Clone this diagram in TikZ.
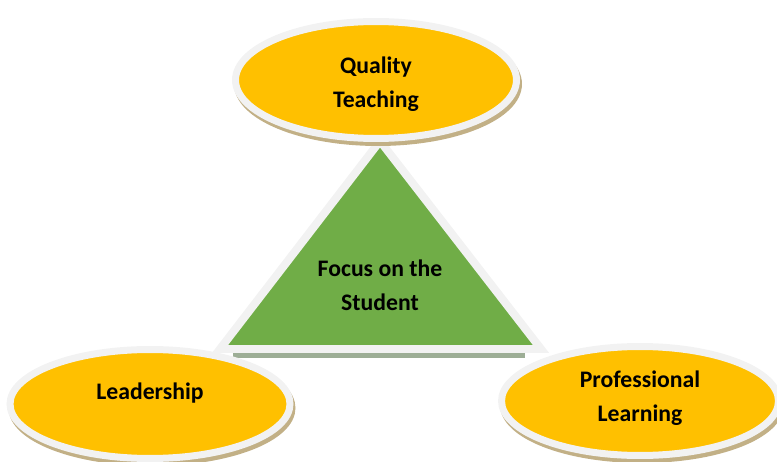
\documentclass[tikz,border=0pt]{standalone}
\usepackage{fontspec}
\setmainfont{Carlito}
\usetikzlibrary{shapes.geometric,shadows}

\definecolor{petal}{HTML}{FFC000}
\definecolor{leaf}{HTML}{70AD47}
\definecolor{rim}{HTML}{F2F2F2}
\definecolor{ovalshade}{HTML}{C2B086}
\definecolor{baseshade}{HTML}{9DAE96}

\begin{document}
\begin{tikzpicture}[
  x=0.02cm, y=-0.02cm,
  oval/.style={ellipse, fill=petal, draw=rim, line width=0.14cm, inner sep=0pt,
               general shadow={shadow xshift=0.04cm, shadow yshift=-0.08cm,
                               fill=ovalshade, draw=ovalshade, line width=0.14cm}},
  caption/.style={font=\bfseries\fontsize{13.5}{19.3}\selectfont, align=center, text=black}
]
  \useasboundingbox (0,0) rectangle (777,462);

  % Triangle
  \coordinate (apex) at (380,141);
  \coordinate (left) at (220,349);
  \coordinate (right) at (541,349);
  \fill[baseshade] (233,353) rectangle (525,358);
  \draw[draw=rim, fill=leaf, line width=0.16cm, line join=miter]
    (apex) -- (left) -- (right) -- cycle;
  \node[caption] (focus) at (380,285) {Focus on the\\Student};

  % Ellipses
  \node[oval, minimum width=5.62cm, minimum height=2.34cm] (quality) at (376,80) {};
  \node[oval, minimum width=5.60cm, minimum height=2.18cm] (leader) at (150,404) {};
  \node[oval, minimum width=5.54cm, minimum height=2.18cm] (learning) at (640,401) {};

  \node[caption] (qtext) at ([yshift=-0.08cm]quality.center) {Quality\\Teaching};
  \node[caption] (ltext) at ([yshift=0.22cm]leader.center) {Leadership};
  \node[caption] (ptext) at ([yshift=0.06cm]learning.center) {Professional\\Learning};
\end{tikzpicture}
\end{document}
